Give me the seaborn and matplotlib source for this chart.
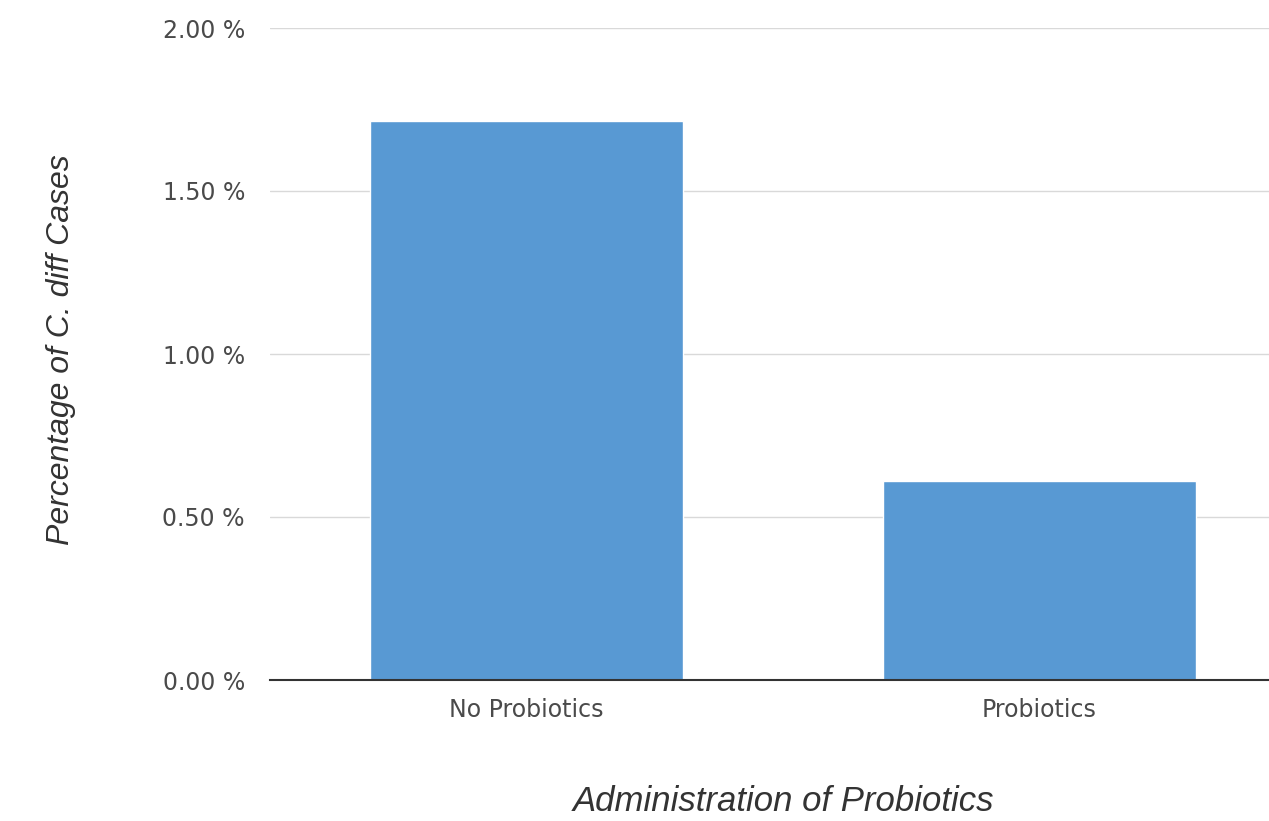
import matplotlib
matplotlib.use('Agg')
import matplotlib.pyplot as plt
import pandas as pd
import seaborn as sns
from matplotlib.ticker import FuncFormatter

# Data
groups = ['No Probiotics', 'Probiotics']
pct_cases = [1.715, 0.61]
y_ticks = [0.0, 0.5, 1.0, 1.5, 2.0]

df = pd.DataFrame({'group': groups, 'pct': pct_cases})

sns.set_theme(style='white')
plt.rcParams['font.family'] = ['DejaVu Sans']

fig = plt.figure(figsize=(12.69, 8.21), dpi=100)
# axes runs a bit past the right edge, like the cropped original
ax = fig.add_axes([270/1269, 141/821, 1026/1269, 652/821])

sns.barplot(data=df, x='group', y='pct', color='#5899d3', saturation=1,
            width=0.61, ax=ax, zorder=2)

ax.set_xlim(-0.5, 1.5)
ax.set_ylim(0, 2.0)
ax.set_yticks(y_ticks)
ax.yaxis.set_major_formatter(FuncFormatter(lambda v, p: f'{v:.2f} %'))
ax.grid(axis='y', color='#d9d9d9', linewidth=1, zorder=0)
ax.grid(axis='x', visible=False)

for s in ['top', 'right', 'left']:
    ax.spines[s].set_visible(False)
ax.spines['bottom'].set_color('#333333')
ax.spines['bottom'].set_linewidth(1.5)
ax.spines['bottom'].set_zorder(3)

ax.tick_params(axis='both', length=0, labelsize=17, labelcolor='#4a4a4a')
ax.tick_params(axis='y', pad=18)
ax.tick_params(axis='x', pad=13)

ax.set_xlabel('Administration of Probiotics', fontsize=25, style='italic',
              color='#333333', family='Liberation Sans', va='center')
ax.set_ylabel('Percentage of C. diff Cases', fontsize=23, style='italic',
              color='#333333', family='Liberation Sans', va='center')
ax.xaxis.set_label_coords(0.5, -0.186)
ax.yaxis.set_label_coords(-0.204, 0.506)

fig.savefig('out.png', dpi=100)
